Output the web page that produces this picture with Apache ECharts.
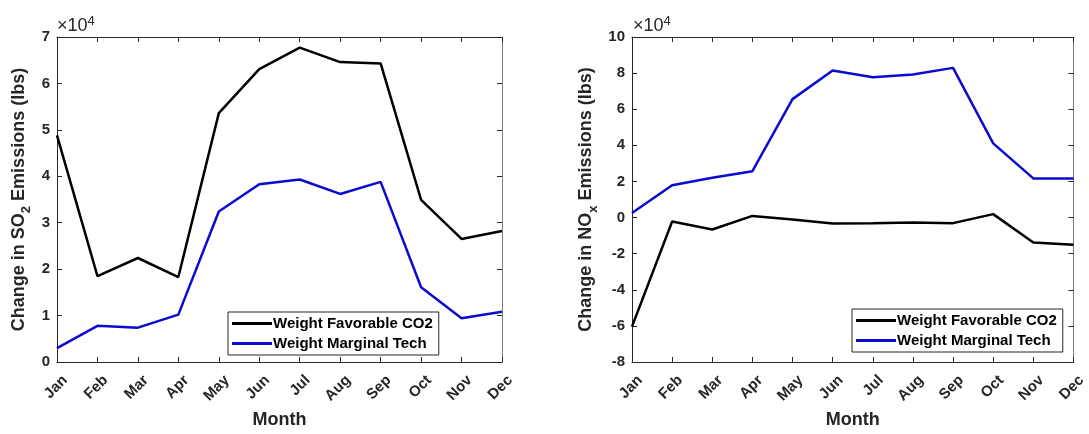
<!DOCTYPE html>
<html>
<head>
<meta charset="utf-8">
<title>SO2 / NOx change by month</title>
<script src="https://cdn.jsdelivr.net/npm/echarts@6/dist/echarts.min.js"></script>
<style>
html, body { margin: 0; padding: 0; background: #fff; }
#main { width: 1089px; height: 434px; }
</style>
</head>
<body>
<div id="main"></div>
<script>
/** data (lbs) **/
var months = ['Jan', 'Feb', 'Mar', 'Apr', 'May', 'Jun', 'Jul', 'Aug', 'Sep', 'Oct', 'Nov', 'Dec'];
var seriesNames = ['Weight Favorable CO2', 'Weight Marginal Tech'];

var so2Favorable = [48800, 18500, 22400, 18300, 53600, 63100, 67700, 64600, 64300, 34900, 26500, 28200];
var so2Marginal = [3000, 7800, 7400, 10200, 32400, 38300, 39300, 36200, 38800, 16100, 9400, 10800];

var noxFavorable = [-60400, -2200, -6600, 900, -1100, -3300, -3100, -2800, -3100, 1900, -13800, -15100];
var noxMarginal = [2500, 17900, 22000, 25700, 65600, 81500, 77700, 79200, 82900, 41100, 21700, 21700];

// axis range: min, max, step
var so2Range = [0, 70000, 10000];
var noxRange = [-80000, 100000, 20000];

var textColor = '#262626';
var font = 'Liberation Sans, Arial, Helvetica, sans-serif';
var black = '#000000';
var blue = '#0a0ad2';

var myChart = echarts.init(document.getElementById('main'));

// grid positions
var grids = [
	{ left: 57, top: 37, width: 445, height: 330 },
	{ left: 632, top: 37, width: 445, height: 330 }
];

function bottomAxis(idx) {
	return {
		type: 'category',
		gridIndex: idx,
		data: months,
		boundaryGap: false,
		name: 'Month',
		nameLocation: 'middle',
		nameGap: 49,
		nameTextStyle: { fontFamily: font, fontWeight: 'bold', fontSize: 18, color: textColor },
		axisLine: { onZero: false, lineStyle: { color: textColor, width: 1 } },
		axisTick: { inside: true, length: 5, lineStyle: { color: textColor } },
		axisLabel: {
			rotate: 45, margin: 5, interval: 0,
			verticalAlign: 'top', padding: [6, 2, 0, 0],
			fontFamily: font, fontWeight: 'bold', fontSize: 15, color: textColor
		},
		splitLine: { show: false }
	};
}

function topAxis(idx) {
	return {
		type: 'category',
		gridIndex: idx,
		position: 'top',
		data: months,
		boundaryGap: false,
		axisLine: { onZero: false, lineStyle: { color: textColor, width: 1 } },
		axisTick: { inside: true, length: 5, lineStyle: { color: textColor } },
		axisLabel: { show: false },
		splitLine: { show: false }
	};
}

function leftAxis(idx, range, nameRich, gap) {
	return {
		type: 'value',
		gridIndex: idx,
		min: range[0], max: range[1], interval: range[2],
		name: nameRich,
		nameLocation: 'middle',
		nameGap: gap,
		nameRotate: 90,
		nameTextStyle: {
			rich: {
				a: { fontFamily: font, fontWeight: 'bold', fontSize: 18, color: textColor },
				s: { fontFamily: font, fontWeight: 'bold', fontSize: 13, color: textColor, padding: [14, 0, 0, 0] }
			}
		},
		axisLine: { show: true, onZero: false, lineStyle: { color: textColor, width: 1 } },
		axisTick: { show: true, inside: true, length: 5, lineStyle: { color: textColor } },
		axisLabel: {
			margin: 7,
			fontFamily: font, fontWeight: 'bold', fontSize: 15, color: textColor,
			formatter: function(v) { return v / 10000; }
		},
		splitLine: { show: false }
	};
}

function rightAxis(idx, range) {
	return {
		type: 'value',
		gridIndex: idx,
		position: 'right',
		min: range[0], max: range[1], interval: range[2],
		axisLine: { show: true, onZero: false, lineStyle: { color: '#7a7a7a', width: 1 } },
		axisTick: { show: true, inside: true, length: 5, lineStyle: { color: textColor } },
		axisLabel: { show: false },
		splitLine: { show: false }
	};
}

function lineSeries(name, xi, yi, data, color) {
	return {
		name: name,
		type: 'line',
		xAxisIndex: xi,
		yAxisIndex: yi,
		data: data,
		symbol: 'none',
		lineStyle: { color: color, width: 2.5 },
		itemStyle: { color: color }
	};
}

function legendAt(left, top) {
	return {
		data: seriesNames,
		orient: 'vertical',
		left: left,
		top: top,
		icon: 'rect',
		itemWidth: 40,
		itemHeight: 3,
		itemGap: 5,
		padding: [4, 6, 4, 4],
		borderColor: textColor,
		borderWidth: 1,
		backgroundColor: '#fff',
		selectedMode: false,
		textStyle: { fontFamily: font, fontWeight: 'bold', fontSize: 15, color: black, padding: [0, 0, 0, -4] }
	};
}

function exponent(x) {
	return {
		type: 'text',
		left: x,
		top: 15,
		style: {
			text: '×10{s|4}',
			fontFamily: font,
			fontSize: 18,
			fill: textColor,
			rich: { s: { fontFamily: font, fontSize: 13, fill: textColor, padding: [0, 0, 10, 0] } }
		}
	};
}

var option = {
	backgroundColor: '#fff',
	animation: false,
	grid: grids,
	xAxis: [bottomAxis(0), bottomAxis(1), topAxis(0), topAxis(1)],
	yAxis: [
		leftAxis(0, so2Range, '{a|Change in SO}{s|2}{a| Emissions (lbs)}', 24),
		leftAxis(1, noxRange, '{a|Change in NO}{s|x}{a| Emissions (lbs)}', 32),
		rightAxis(0, so2Range),
		rightAxis(1, noxRange)
	],
	legend: [legendAt(228, 312), legendAt(852, 309)],
	series: [
		lineSeries(seriesNames[0], 0, 0, so2Favorable, black),
		lineSeries(seriesNames[1], 0, 0, so2Marginal, blue),
		lineSeries(seriesNames[0], 1, 1, noxFavorable, black),
		lineSeries(seriesNames[1], 1, 1, noxMarginal, blue)
	],
	graphic: [exponent(57), exponent(633)]
};

myChart.setOption(option);
</script>
</body>
</html>
